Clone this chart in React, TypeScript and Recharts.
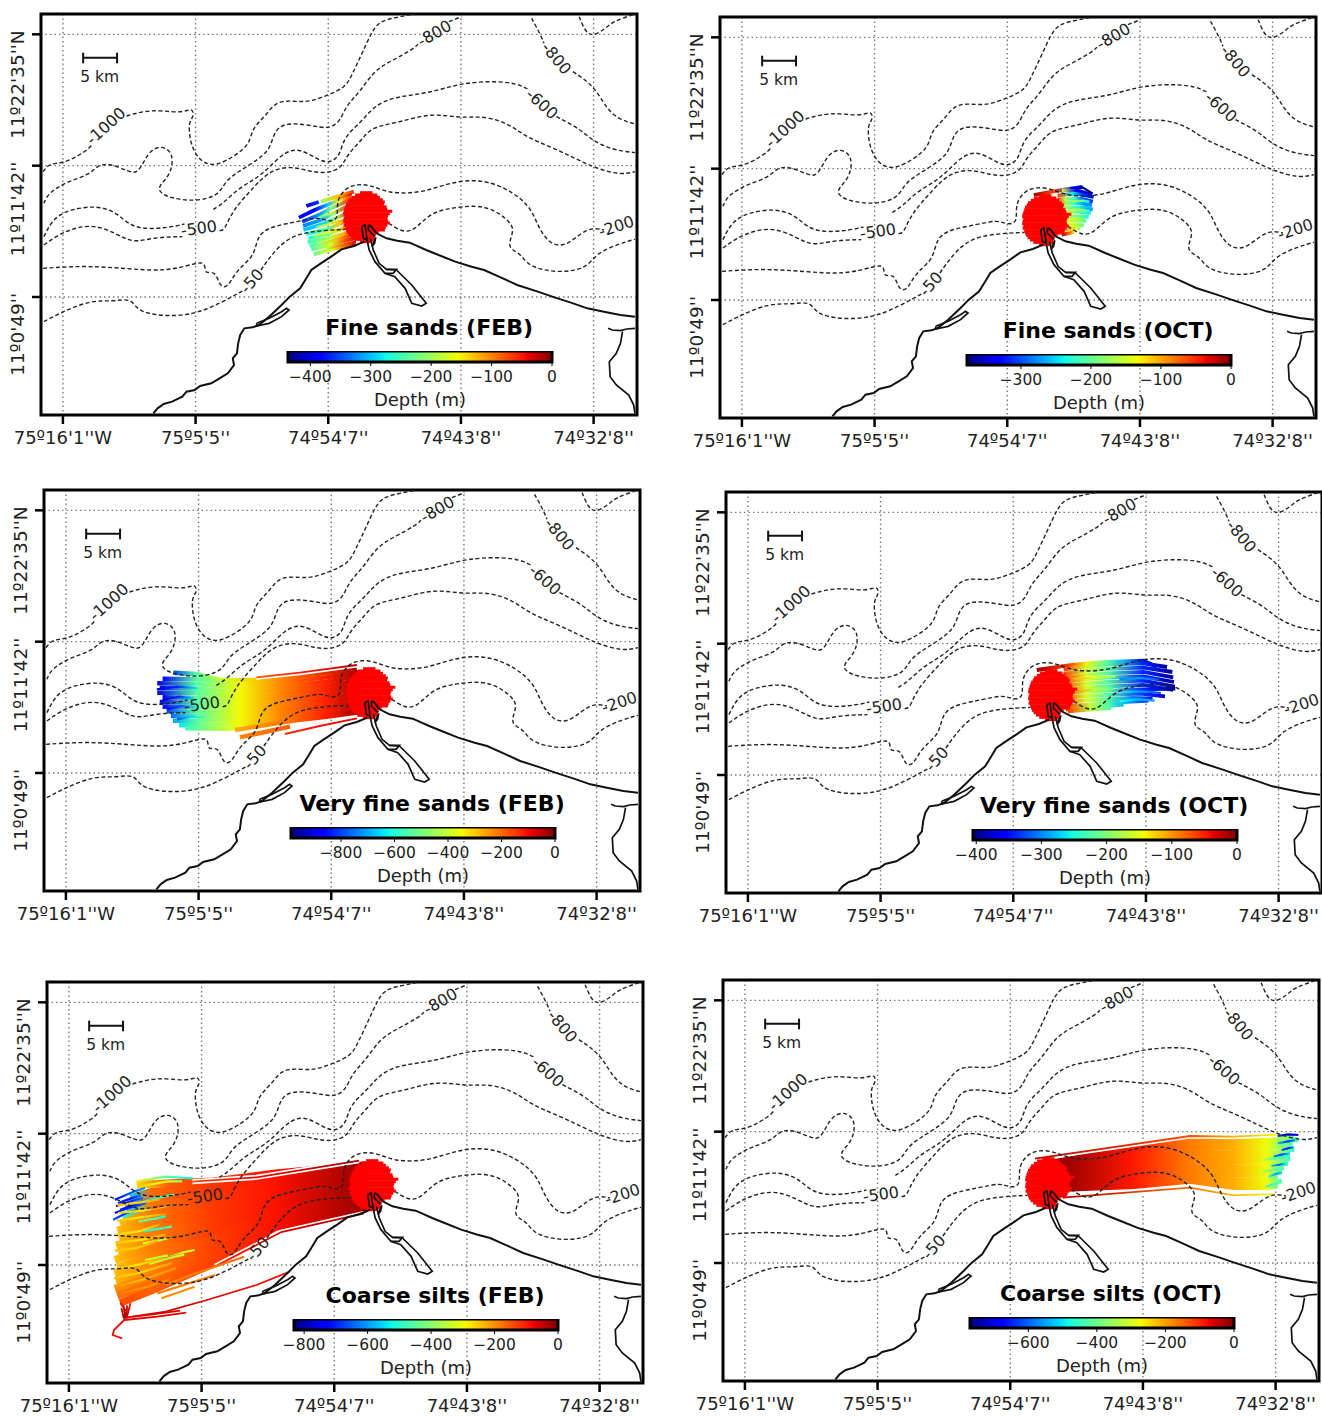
import React from "react";
import {
  ComposedChart,
  Line,
  Area,
  Scatter,
  XAxis,
  YAxis,
  CartesianGrid,
  ReferenceArea,
} from "recharts";

type Pair = [number, number];
type Pt = [number, number, number];

const FONT = "'DejaVu Sans', sans-serif";
const X_DOMAIN: Pair = [98, 1540];
const Y_DOMAIN: Pair = [42, 1245];

const xTicks = [151, 472, 793, 1114, 1435];
const xTickLabels = ["75º16'1''W", "75º5'5''", "74º54'7''", "74º43'8''", "74º32'8''"];
const yTicks = [103, 497, 891];
const yTickLabels = ["11º22'35''N", "11º11'42''", "11º0'49''"];

// bathymetry, split where the inline labels sit
const contours: Pair[][] = [
  [[103, 515], [118, 490], [150, 490], [185, 470], [215, 445], [222, 432]],
  [[305, 348], [340, 335], [385, 330], [440, 340], [465, 322], [468, 350], [455, 365], [458, 420], [470, 460], [491, 490], [523, 498], [571, 465], [604, 430], [608, 385], [644, 345], [668, 300], [720, 305], [749, 305], [793, 285], [835, 262], [850, 225], [875, 160], [900, 90], [920, 62], [960, 52], [1000, 42]],
  [[105, 610], [115, 580], [160, 545], [215, 525], [235, 495], [265, 490], [310, 515], [330, 520], [345, 490], [360, 455], [385, 437], [410, 450], [418, 480], [410, 525], [385, 555], [382, 575], [410, 595], [475, 605], [531, 585], [543, 540], [596, 500], [652, 455], [660, 400], [684, 367], [749, 375], [793, 388], [822, 365], [834, 320], [870, 275], [905, 210], [950, 180], [995, 150], [1010, 133]],
  [[1085, 65], [1115, 50]],
  [[105, 710], [125, 660], [160, 630], [235, 615], [285, 640], [320, 688], [400, 685], [445, 672]],
  [[515, 628], [539, 610], [575, 565], [620, 535], [652, 500], [688, 455], [725, 445], [769, 480], [797, 490], [822, 467], [830, 411], [874, 365], [902, 320], [950, 290], [1040, 280], [1120, 245], [1240, 243], [1280, 270]],
  [[1345, 350], [1400, 385], [1430, 420], [1480, 450], [1535, 458]],
  [[105, 735], [150, 695], [220, 670], [280, 700], [320, 730], [370, 712], [440, 710]],
  [[530, 692], [543, 690], [559, 635], [610, 565], [652, 510], [705, 498], [749, 515], [789, 520], [825, 505], [838, 465], [874, 420], [898, 380], [967, 367], [1040, 338], [1110, 355], [1175, 347], [1235, 375], [1270, 410], [1330, 440], [1390, 475], [1440, 505], [1500, 525], [1535, 515]],
  [[103, 805], [200, 797], [300, 805], [400, 815], [470, 790], [497, 785], [493, 825], [520, 810], [530, 860], [550, 865], [570, 810], [615, 770], [620, 710], [650, 680], [720, 665], [770, 650], [790, 665], [820, 660], [810, 600], [845, 550], [900, 555], [935, 580], [1020, 580], [1090, 545], [1170, 537], [1240, 575], [1285, 625], [1300, 680], [1330, 735], [1370, 740], [1420, 680], [1460, 690]],
  [[105, 965], [150, 935], [220, 900], [270, 905], [320, 893], [330, 940], [430, 952], [500, 930], [560, 890], [590, 870]],
  [[630, 810], [670, 740], [720, 695], [835, 688]],
  [[940, 670], [970, 695], [1000, 695], [1040, 635], [1110, 620], [1180, 615], [1240, 670], [1240, 700], [1225, 745], [1260, 760], [1275, 800], [1350, 820], [1420, 805], [1440, 760], [1500, 730], [1535, 718]],
  [[1285, 55], [1305, 100], [1315, 130]],
  [[1385, 215], [1440, 260], [1475, 350], [1535, 372]],
  [[1400, 50], [1415, 95], [1432, 110], [1465, 85], [1480, 65], [1535, 42]],
];

const coast: Pair[][] = [
  [[370, 1240], [380, 1225], [395, 1212], [415, 1205], [440, 1190], [450, 1175], [470, 1170], [483, 1158], [510, 1150], [530, 1135], [550, 1120], [565, 1095], [562, 1075], [572, 1060], [575, 1030], [580, 1005], [590, 985], [610, 982], [625, 975], [650, 950], [680, 915], [700, 890], [725, 865], [740, 835], [752, 810], [775, 790], [800, 770], [825, 748], [855, 738], [880, 725]],
  [[890, 675], [898, 680], [910, 700], [934, 715], [960, 722], [990, 728], [1030, 750], [1060, 765], [1100, 785], [1140, 800], [1170, 810], [1210, 832], [1250, 855], [1300, 875], [1335, 890], [1380, 908], [1420, 925], [1460, 935], [1500, 945], [1535, 950]],
  [[874, 680], [882, 675], [887, 720], [878, 715], [874, 680]],
  [[890, 675], [890, 690], [906, 710]],
  [[887, 720], [892, 750], [906, 785], [930, 820], [954, 830], [979, 865], [995, 910], [1019, 918], [1030, 910], [995, 855], [958, 810], [934, 808], [916, 790], [902, 750], [895, 715]],
  [[900, 735], [908, 712], [905, 730], [898, 740]],
  [[934, 808], [958, 808], [950, 820], [930, 820]],
  [[620, 970], [650, 955], [680, 935], [692, 925], [698, 930], [680, 950], [650, 970], [620, 978], [620, 970]],
  [[1470, 985], [1480, 990], [1500, 992], [1515, 987], [1535, 985]],
  [[1505, 995], [1500, 1030], [1490, 1060], [1473, 1085], [1475, 1130], [1490, 1155], [1520, 1185], [1532, 1215], [1535, 1240]],
];

const contourLabels = [
  { x: 255, y: 378, text: "-1000", angle: -42 },
  { x: 480, y: 685, text: "-500", angle: -8 },
  { x: 608, y: 843, text: "-50", angle: -48 },
  { x: 1050, y: 100, text: "-800", angle: -30 },
  { x: 1345, y: 175, text: "-800", angle: 50 },
  { x: 1310, y: 312, text: "-600", angle: 42 },
  { x: 1490, y: 679, text: "-200", angle: -18 },
];

// outflow disc, one row per line
const blobRows: Pt[] = [
  [578, 870, 900], [585, 858, 912], [592, 850, 918], [599, 843, 925], [606, 840, 930], [613, 836, 928],
  [620, 834, 934], [627, 832, 936], [634, 830, 948], [641, 829, 942], [648, 832, 938], [655, 830, 936],
  [662, 829, 938], [669, 832, 942], [676, 830, 936], [683, 834, 932], [690, 836, 930], [697, 838, 915],
  [704, 842, 908], [711, 848, 905], [718, 856, 905], [725, 870, 900],
];

const scaleBar: Pair[][] = [
  [[200, 173], [282, 173]],
  [[200, 158], [200, 190]],
  [[282, 158], [282, 190]],
];

const fineFebTracks: Pt[][] = [
  [[740, 618, -400], [770, 606, -360]],
  [[775, 605, -200], [815, 590, -130], [855, 575, -60]],
  [[722, 653, -390], [760, 630, -380], [790, 615, -300], [820, 600, -150], [850, 590, -60]],
  [[730, 665, -360], [770, 645, -320], [800, 625, -220], [845, 600, -60]],
  [[732, 678, -330], [775, 660, -310], [805, 640, -220], [845, 615, -50]],
  [[733, 690, -300], [780, 672, -290], [812, 655, -200], [845, 635, -50]],
  [[740, 702, -270], [790, 688, -240], [820, 672, -130], [850, 655, -40]],
  [[745, 715, -260], [795, 700, -220], [825, 688, -140], [850, 675, -40]],
  [[743, 727, -255], [800, 712, -190], [830, 702, -120], [855, 690, -40]],
  [[748, 738, -250], [800, 725, -180], [835, 712, -90], [860, 700, -30]],
  [[752, 748, -245], [800, 735, -170], [835, 722, -70], [865, 712, -20]],
  [[758, 763, -230], [800, 748, -160], [860, 733, -40]],
];

const fineFebTips: Pt[][] = [
  [[770, 652, -240], [800, 640, -190], [820, 632, -120]],
  [[765, 682, -200], [795, 672, -170], [830, 660, -110]],
  [[760, 707, -190], [800, 695, -160], [835, 683, -100]],
  [[770, 732, -190], [810, 718, -130], [845, 706, -60]],
  [[790, 746, -180], [830, 734, -80], [860, 724, -30]],
  [[805, 600, -150], [850, 582, -40]],
];

const fineOctTracks: Pt[][] = [
  [[857, 576, -10], [905, 565, -60], [950, 556, -300], [975, 552, -340]],
  [[925, 562, -150], [960, 562, -330], [998, 575, -350]],
  [[915, 578, -60], [950, 572, -240], [974, 575, -310], [1002, 582, -330]],
  [[915, 590, -50], [933, 588, -160], [955, 586, -220], [974, 588, -290], [1000, 596, -310]],
  [[915, 602, -40], [935, 600, -170], [955, 600, -220], [976, 602, -270], [998, 606, -280]],
  [[915, 615, -40], [935, 613, -170], [960, 613, -220], [985, 615, -260], [1000, 620, -270]],
  [[915, 628, -40], [935, 626, -160], [960, 626, -200], [995, 630, -240]],
  [[915, 641, -40], [935, 640, -160], [960, 640, -190], [990, 642, -230]],
  [[915, 654, -30], [940, 652, -150], [970, 652, -180], [984, 655, -210]],
  [[918, 667, -20], [940, 665, -140], [965, 664, -170], [978, 668, -200]],
  [[920, 680, -20], [940, 678, -110], [960, 675, -150], [970, 678, -180]],
  [[925, 695, -10], [945, 690, -80], [955, 686, -130]],
];

const fineOctTips: Pt[][] = [
  [[945, 555, -340], [975, 553, -370], [1000, 572, -375]],
  [[950, 595, -170], [975, 593, -200], [992, 596, -240]],
  [[945, 622, -150], [968, 620, -170], [985, 623, -200]],
  [[945, 648, -140], [965, 646, -160], [978, 648, -190]],
];

const veryFineFebTracks: Pt[][] = [
  [[411, 590, -800], [467, 594, -540], [524, 612, -400], [612, 612, -300], [717, 600, -180], [855, 580, -50]],
  [[385, 608, -880], [467, 610, -540], [572, 625, -350], [669, 618, -230], [782, 604, -120], [865, 588, -20]],
  [[372, 622, -900], [467, 624, -540], [572, 636, -350], [669, 630, -230], [782, 617, -120], [865, 598, -20]],
  [[378, 636, -890], [467, 638, -540], [572, 648, -350], [669, 642, -230], [782, 630, -120], [865, 611, -20]],
  [[372, 650, -900], [467, 652, -540], [572, 660, -350], [669, 654, -230], [782, 642, -120], [865, 624, -20]],
  [[385, 664, -880], [467, 666, -540], [572, 672, -350], [669, 666, -230], [782, 654, -120], [865, 637, -20]],
  [[378, 678, -890], [467, 680, -540], [572, 684, -350], [669, 678, -230], [782, 666, -120], [865, 650, -20]],
  [[385, 692, -880], [467, 693, -540], [572, 696, -350], [669, 690, -230], [782, 678, -120], [865, 663, -20]],
  [[395, 706, -800], [467, 707, -540], [572, 708, -350], [669, 702, -230], [782, 690, -120], [865, 676, -20]],
  [[405, 720, -760], [467, 720, -540], [572, 720, -350], [669, 714, -230], [782, 702, -120], [865, 689, -20]],
  [[410, 734, -700], [467, 734, -540], [572, 732, -350], [669, 726, -230], [782, 714, -120], [865, 702, -20]],
  [[425, 748, -640], [480, 748, -500], [572, 744, -350], [669, 738, -230], [782, 722, -120], [865, 708, -20]],
  [[440, 757, -580], [540, 758, -400], [572, 755, -350]],
  [[560, 762, -270], [709, 732, -200]],
  [[572, 784, -230], [693, 752, -190]],
];

const veryFineFebRails: Pt[][] = [
  [[612, 604, -170], [717, 590, -120], [855, 567, -50]],
  [[681, 774, -130], [765, 750, -110], [855, 727, -90]],
];

const veryFineFebTips: Pt[][] = [
  [[371, 640, -920], [420, 632, -820], [470, 636, -640]],
  [[385, 672, -940], [425, 662, -820], [460, 668, -640]],
  [[395, 700, -900], [430, 690, -780], [470, 695, -600]],
  [[420, 730, -780], [455, 722, -650], [500, 726, -480]],
];

const veryFineOctTracks: Pt[][] = [
  [[850, 576, -10], [926, 562, -60], [971, 556, -140], [1019, 552, -220], [1059, 550, -280], [1108, 548, -350], [1140, 566, -395]],
  [[915, 575, -60], [971, 565, -160], [1019, 560, -220], [1108, 556, -340], [1165, 567, -395]],
  [[915, 588, -60], [971, 578, -160], [1019, 573, -220], [1108, 569, -340], [1178, 582, -395]],
  [[915, 600, -60], [971, 590, -160], [1019, 586, -220], [1108, 582, -340], [1180, 598, -395]],
  [[915, 612, -60], [971, 603, -160], [1019, 599, -220], [1108, 595, -340], [1182, 612, -395]],
  [[915, 624, -60], [971, 616, -160], [1019, 612, -220], [1108, 608, -340], [1184, 626, -395]],
  [[915, 636, -60], [971, 628, -160], [1019, 625, -220], [1108, 621, -340], [1180, 636, -395]],
  [[915, 648, -60], [971, 641, -160], [1019, 638, -220], [1108, 634, -340], [1185, 632, -395]],
  [[915, 660, -60], [971, 654, -160], [1019, 651, -220], [1100, 647, -330], [1160, 655, -380]],
  [[915, 672, -60], [971, 667, -160], [1019, 664, -220], [1080, 660, -300], [1130, 662, -350]],
  [[920, 684, -60], [980, 680, -170], [1019, 675, -220], [1060, 672, -280], [1120, 668, -340]],
  [[920, 695, -60], [980, 688, -170], [1019, 684, -220], [1060, 680, -280]],
  [[925, 700, -60], [980, 695, -170], [1030, 690, -230]],
];

const veryFineOctTips: Pt[][] = [
  [[940, 603, -110], [990, 598, -150], [1040, 596, -200]],
  [[945, 640, -100], [990, 635, -170], [1035, 632, -210]],
  [[1050, 604, -300], [1100, 600, -290], [1145, 605, -320]],
  [[1060, 642, -260], [1110, 640, -300], [1150, 645, -330]],
  [[1050, 670, -240], [1095, 664, -280], [1135, 668, -290]],
];

const coarseFebTracks: Pt[][] = [
  [[872, 591, -15], [650, 616, -90], [500, 640, -120], [400, 645, -150], [315, 650, -260]],
  [[872, 600, -15], [650, 628, -90], [500, 657, -120], [350, 671, -170], [300, 690, -560]],
  [[872, 612, -15], [650, 639, -90], [500, 674, -120], [350, 693, -170], [290, 723, -600]],
  [[872, 622, -15], [650, 651, -90], [500, 691, -125], [350, 714, -180], [280, 745, -520]],
  [[872, 632, -15], [650, 662, -90], [500, 708, -125], [350, 736, -180], [275, 767, -240]],
  [[872, 643, -15], [650, 674, -90], [500, 725, -125], [350, 757, -180], [268, 788, -240]],
  [[872, 653, -15], [650, 686, -90], [500, 742, -125], [350, 778, -180], [272, 810, -240]],
  [[872, 663, -15], [650, 697, -90], [500, 760, -125], [350, 800, -185], [265, 832, -240]],
  [[872, 673, -15], [650, 709, -90], [500, 776, -125], [350, 821, -185], [270, 853, -240]],
  [[872, 683, -15], [650, 720, -90], [500, 794, -125], [350, 843, -185], [262, 875, -240]],
  [[872, 693, -15], [650, 732, -90], [500, 811, -130], [350, 864, -190], [268, 897, -240]],
  [[872, 703, -15], [650, 744, -90], [500, 828, -130], [350, 885, -190], [262, 918, -240]],
  [[872, 713, -15], [650, 755, -90], [500, 845, -130], [350, 907, -190], [265, 940, -230]],
  [[872, 717, -15], [650, 767, -90], [500, 862, -130], [350, 928, -180], [262, 962, -200]],
  [[872, 719, -15], [650, 774, -90], [500, 875, -130], [350, 950, -170], [268, 983, -170]],
  [[872, 721, -15], [650, 778, -90], [500, 888, -130], [350, 968, -160], [275, 1005, -140]],
];

const coarseFebRails: Pt[][] = [
  [[853, 578, -30], [605, 628, -80], [450, 641, -130]],
  [[865, 736, -30], [665, 792, -60], [575, 850, -90], [505, 895, -110]],
];

const coarseFebThin: Pt[][] = [
  [[685, 911, -90], [605, 951, -80], [485, 996, -70], [385, 1031, -60], [305, 1046, -60]],
  [[435, 1034, -70], [365, 1046, -70], [285, 1056, -70]],
  [[285, 1056, -80], [260, 1086, -80], [257, 1101, -80], [280, 1111, -80]],
  [[275, 1005, -90], [290, 1030, -60], [285, 1056, -50]],
  [[300, 1006, -90], [295, 1030, -60], [290, 1052, -50]],
  [[283, 1012, -60], [285, 1030, -30], [288, 1050, -40]],
  [[278, 1020, -60], [281, 1036, -30], [284, 1052, -40]],
  [[292, 1012, -60], [291, 1030, -30], [288, 1046, -40]],
  [[420, 1028, -70], [350, 1040, -70], [290, 1048, -70]],
];

const coarseFebTips: Pt[][] = [
  [[315, 640, -280], [385, 626, -450], [450, 631, -530]],
  [[320, 656, -260], [390, 640, -320], [425, 640, -400]],
  [[262, 695, -720], [310, 670, -640], [335, 660, -600]],
  [[265, 715, -760], [300, 700, -700], [330, 690, -640]],
  [[262, 735, -730], [300, 718, -690], [338, 705, -660]],
  [[258, 755, -660], [290, 735, -700], [320, 725, -640]],
  [[270, 705, -700], [300, 692, -720], [325, 682, -620]],
  [[275, 725, -700], [305, 712, -740], [335, 698, -680]],
  [[330, 700, -560], [370, 688, -500], [405, 680, -470]],
  [[335, 728, -620], [375, 715, -540], [400, 708, -480]],
  [[330, 790, -520], [370, 782, -500], [400, 776, -470]],
  [[320, 760, -420], [360, 752, -470], [385, 745, -520]],
  [[335, 876, -330], [415, 856, -360], [455, 846, -320]],
  [[345, 888, -320], [395, 870, -370], [430, 860, -300]],
  [[330, 826, -300], [375, 816, -360], [395, 808, -300]],
  [[268, 712, -240], [320, 704, -270], [372, 694, -220]],
  [[270, 735, -260], [330, 728, -280], [395, 712, -220]],
  [[268, 758, -250], [325, 748, -280], [385, 738, -210]],
  [[265, 800, -260], [320, 790, -280], [370, 770, -220]],
  [[265, 825, -250], [330, 815, -280], [385, 800, -220]],
  [[262, 848, -240], [315, 840, -270], [365, 820, -210]],
  [[262, 905, -250], [320, 890, -280], [380, 870, -220]],
  [[260, 930, -240], [320, 915, -270], [400, 885, -220]],
  [[265, 955, -210], [330, 935, -240], [410, 900, -200]],
  [[268, 978, -180], [330, 960, -210], [395, 935, -190]],
  [[480, 690, -130], [395, 708, -160], [350, 722, -180]],
  [[470, 730, -140], [400, 750, -160], [365, 760, -180]],
  [[470, 770, -140], [410, 795, -160], [375, 810, -180]],
  [[480, 820, -140], [420, 850, -160], [390, 862, -180]],
  [[575, 866, -170], [435, 926, -190], [385, 951, -200]],
  [[505, 921, -180], [365, 976, -190]],
  [[455, 956, -200], [375, 991, -200]],
];

const coarseOctTracks: Pt[][] = [
  [[860, 595, -20], [929, 580, -20], [1091, 540, -90], [1228, 520, -170], [1333, 522, -210], [1414, 522, -280], [1480, 512, -420]],
  [[860, 600, -20], [929, 588, -20], [1091, 552, -90], [1228, 532, -170], [1333, 535, -210], [1414, 535, -280], [1490, 520, -440]],
  [[860, 610, -20], [929, 596, -20], [1091, 564, -90], [1228, 544, -170], [1333, 548, -210], [1414, 548, -280], [1476, 535, -440]],
  [[860, 618, -20], [929, 604, -20], [1091, 575, -90], [1228, 556, -170], [1333, 562, -210], [1414, 562, -280], [1480, 550, -450]],
  [[860, 625, -20], [929, 613, -20], [1091, 587, -90], [1228, 568, -170], [1333, 575, -210], [1414, 575, -280], [1470, 565, -440]],
  [[860, 632, -20], [929, 621, -20], [1091, 599, -90], [1228, 580, -170], [1333, 588, -210], [1414, 588, -280], [1470, 578, -450]],
  [[860, 640, -20], [929, 630, -20], [1091, 610, -90], [1228, 592, -170], [1333, 602, -210], [1414, 602, -280], [1465, 592, -440]],
  [[860, 648, -20], [929, 638, -20], [1091, 622, -90], [1228, 604, -170], [1333, 615, -210], [1414, 615, -280], [1455, 605, -430]],
  [[860, 654, -20], [929, 647, -20], [1091, 634, -90], [1228, 616, -170], [1333, 628, -210], [1414, 628, -280], [1450, 618, -440]],
  [[860, 660, -20], [929, 655, -20], [1091, 645, -90], [1228, 628, -170], [1333, 642, -210], [1414, 642, -280], [1440, 632, -420]],
  [[860, 668, -20], [929, 664, -20], [1091, 657, -90], [1228, 640, -170], [1333, 655, -210], [1414, 655, -280], [1450, 645, -440]],
  [[860, 675, -20], [929, 670, -20], [1091, 662, -90], [1228, 646, -170], [1333, 665, -210], [1414, 665, -280], [1440, 660, -400]],
];

const coarseOctRails: Pt[][] = [
  [[853, 578, -40], [1228, 510, -130], [1333, 512, -210], [1440, 506, -270]],
  [[920, 695, -30], [1228, 665, -160], [1333, 688, -220], [1430, 684, -280]],
];

const coarseOctTips: Pt[][] = [
  [[1440, 510, -640], [1465, 505, -720], [1490, 507, -680]],
  [[1440, 532, -520], [1465, 526, -640], [1482, 522, -560]],
  [[1450, 552, -620], [1468, 546, -660], [1480, 544, -520]],
  [[1430, 572, -560], [1450, 566, -620], [1470, 562, -500]],
  [[1425, 600, -520], [1445, 596, -600], [1462, 592, -480]],
  [[1418, 632, -440], [1435, 624, -560], [1450, 620, -520]],
  [[1410, 662, -380], [1428, 656, -460], [1442, 652, -420]],
  [[1395, 620, -300], [1425, 612, -400], [1445, 608, -440]],
  [[1400, 582, -300], [1430, 578, -420], [1460, 572, -460]],
];

const none: Pt[][] = [];

const panels = [
  { id: "a", title: "Fine sands (FEB)", left: 41, top: 14, min: -437, ticks: [-400, -300, -200, -100, 0], tracks: fineFebTracks, rails: none, thin: none, tips: fineFebTips, width: 3.8 },
  { id: "b", title: "Fine sands (OCT)", left: 720, top: 17, min: -377, ticks: [-300, -200, -100, 0], tracks: fineOctTracks, rails: none, thin: none, tips: fineOctTips, width: 3.8 },
  { id: "c", title: "Very fine sands (FEB)", left: 44, top: 490, min: -987, ticks: [-800, -600, -400, -200, 0], tracks: veryFineFebTracks, rails: veryFineFebRails, thin: none, tips: veryFineFebTips, width: 4.5 },
  { id: "d", title: "Very fine sands (OCT)", left: 726, top: 492, min: -405, ticks: [-400, -300, -200, -100, 0], tracks: veryFineOctTracks, rails: none, thin: none, tips: veryFineOctTips, width: 3.8 },
  { id: "e", title: "Coarse silts (FEB)", left: 47, top: 982, min: -832, ticks: [-800, -600, -400, -200, 0], tracks: coarseFebTracks, rails: coarseFebRails, thin: coarseFebThin, tips: coarseFebTips, width: 7.5 },
  { id: "f", title: "Coarse silts (OCT)", left: 723, top: 980, min: -770, ticks: [-600, -400, -200, 0], tracks: coarseOctTracks, rails: coarseOctRails, thin: none, tips: coarseOctTips, width: 4.8 },
];

const jet = (t: number) => {
  const clamp = (v: number) => Math.round(255 * Math.max(0, Math.min(1, v)));
  const r = t < 0.35 ? 0 : t < 0.66 ? (t - 0.35) / 0.31 : t < 0.89 ? 1 : 1 - ((t - 0.89) / 0.11) * 0.5;
  const g = t < 0.125 ? 0 : t < 0.375 ? (t - 0.125) / 0.25 : t < 0.64 ? 1 : t < 0.91 ? 1 - (t - 0.64) / 0.27 : 0;
  const b = t < 0.11 ? 0.5 + (t / 0.11) * 0.5 : t < 0.34 ? 1 : t < 0.65 ? 1 - (t - 0.34) / 0.31 : 0;
  return `rgb(${clamp(r)},${clamp(g)},${clamp(b)})`;
};

const depthColor = (d: number, min: number) => jet(1 - d / min);

const toXY = (pts: number[][]) => pts.map((p) => ({ x: p[0], y: p[1] }));

const trackGradient = (id: string, track: Pt[], min: number) => {
  const xs = track.map((p) => p[0]);
  const lo = Math.min(...xs);
  const hi = Math.max(...xs);
  const sorted = [...track].sort((a, b) => a[0] - b[0]);
  return (
    <linearGradient key={id} id={id} x1="0" y1="0" x2="1" y2="0">
      {sorted.map((p, i) => (
        <stop key={i} offset={(p[0] - lo) / (hi - lo)} stopColor={depthColor(p[2], min)} />
      ))}
    </linearGradient>
  );
};

const pathLine = (key: string, pts: number[][], stroke: string, width: number, dash?: string, curve: any = "linear") => (
  <Line
    key={key}
    data={toXY(pts)}
    dataKey="y"
    type={curve}
    stroke={stroke}
    strokeWidth={width}
    strokeDasharray={dash}
    dot={false}
    activeDot={false}
    legendType="none"
    isAnimationActive={false}
  />
);

const YTick = (props: any) => {
  const { x, y, index } = props;
  const tx = x - 6;
  const ty = y - 4;
  return (
    <text
      x={tx}
      y={ty}
      transform={`rotate(-90 ${tx} ${ty})`}
      textAnchor="end"
      fontFamily={FONT}
      fontSize={18.5}
      fill="#222"
    >
      {yTickLabels[index]}
    </text>
  );
};

const MapText = (props: any) => {
  const { cx, cy, payload } = props;
  return (
    <text
      x={cx}
      y={cy}
      transform={`rotate(${payload.angle || 0} ${cx} ${cy})`}
      textAnchor="middle"
      dominantBaseline="central"
      fontFamily={FONT}
      fontSize={payload.size || 16}
      fontWeight={payload.bold ? 700 : 400}
      fill={payload.bold ? "#000" : "#222"}
    >
      {payload.text}
    </text>
  );
};

function MapPanel({ p }: { p: (typeof panels)[number] }) {
  const title = [{ x: 1037, y: 981, text: p.title, size: 22, bold: true }];
  const scaleText = [{ x: 240, y: 232, text: "5 km", size: 15.5 }];
  return (
    <div style={{ position: "absolute", left: p.left - 60, top: p.top - 10 }}>
      <ComposedChart width={666} height={470} margin={{ top: 10, right: 10, bottom: 0, left: 0 }}>
        <defs>
          {p.tracks.map((t, i) => trackGradient(`${p.id}-t${i}`, t, p.min))}
          {p.rails.map((t, i) => trackGradient(`${p.id}-r${i}`, t, p.min))}
          {p.thin.map((t, i) => trackGradient(`${p.id}-n${i}`, t, p.min))}
          {p.tips.map((t, i) => trackGradient(`${p.id}-p${i}`, t, p.min))}
        </defs>
        <CartesianGrid stroke="#777" strokeWidth={1.4} strokeDasharray="1.5 3" />
        <XAxis
          type="number"
          dataKey="x"
          domain={X_DOMAIN}
          ticks={xTicks}
          allowDataOverflow
          height={59}
          interval={0}
          tickSize={9}
          tickMargin={7}
          axisLine={false}
          tickLine={{ stroke: "#000", strokeWidth: 2.5 }}
          tickFormatter={(_v: number, i: number) => xTickLabels[i]}
          tick={{ fontFamily: FONT, fontSize: 18, fill: "#222" }}
        />
        <YAxis
          type="number"
          dataKey="y"
          domain={Y_DOMAIN}
          reversed
          ticks={yTicks}
          allowDataOverflow
          width={60}
          interval={0}
          tickSize={9}
          axisLine={false}
          tickLine={{ stroke: "#000", strokeWidth: 2.5 }}
          tick={<YTick />}
        />
        {p.tracks.map((t, i) => pathLine(`t${i}`, t, `url(#${p.id}-t${i})`, p.width))}
        {p.rails.map((t, i) => pathLine(`w${i}`, t, "#fff", 5))}
        {p.rails.map((t, i) => pathLine(`r${i}`, t, `url(#${p.id}-r${i})`, 1.8))}
        {p.thin.map((t, i) => pathLine(`n${i}`, t, `url(#${p.id}-n${i})`, 1.8))}
        {p.tips.map((t, i) => pathLine(`p${i}`, t, `url(#${p.id}-p${i})`, 2.2))}
        {contours.map((c, i) => pathLine(`c${i}`, c, "#222", 1.4, "4 2.5", "basis"))}
        {blobRows.map((r, i) => pathLine(`b${i}`, [[r[1], r[0]], [r[2], r[0]]], "#fe0000", 3))}
        {coast.map((c, i) => pathLine(`s${i}`, c, "#111", i < 2 ? 2 : 1.7))}
        {scaleBar.map((c, i) => pathLine(`k${i}`, c, "#111", 2))}
        <Scatter data={contourLabels} shape={<MapText />} isAnimationActive={false} legendType="none" />
        <Scatter data={scaleText} shape={<MapText />} isAnimationActive={false} legendType="none" />
        <Scatter data={title} shape={<MapText />} isAnimationActive={false} legendType="none" />
        <ReferenceArea
          x1={X_DOMAIN[0]}
          x2={X_DOMAIN[1]}
          y1={Y_DOMAIN[0]}
          y2={Y_DOMAIN[1]}
          fill="none"
          fillOpacity={0}
          stroke="#000"
          strokeWidth={3}
          ifOverflow="visible"
        />
      </ComposedChart>
    </div>
  );
}

const barStops = [0, 0.11, 0.125, 0.34, 0.375, 0.5, 0.64, 0.66, 0.75, 0.89, 0.91, 1];

function ColorBar({ p }: { p: (typeof panels)[number] }) {
  const data = [
    { d: p.min, v: 1 },
    { d: 0, v: 1 },
  ];
  return (
    <div style={{ position: "absolute", left: p.left + 247 - 30, top: p.top + 337 }}>
      <ComposedChart width={324} height={62} data={data} margin={{ top: 0, right: 30, bottom: 0, left: 30 }}>
        <defs>
          <linearGradient id={`${p.id}-bar`} x1="0" y1="0" x2="1" y2="0">
            {barStops.map((s) => (
              <stop key={s} offset={s} stopColor={jet(s)} />
            ))}
          </linearGradient>
        </defs>
        <XAxis
          type="number"
          dataKey="d"
          domain={[p.min, 0]}
          ticks={p.ticks}
          height={51}
          interval={0}
          tickSize={4}
          tickMargin={5}
          axisLine={false}
          tickLine={{ stroke: "#000", strokeWidth: 1 }}
          tickFormatter={(v: number) => String(v).replace("-", "\u2212")}
          tick={{ fontFamily: FONT, fontSize: 15.5, fill: "#222" }}
          label={{ value: "Depth (m)", position: "insideBottom", offset: 7, fontFamily: FONT, fontSize: 18, fill: "#222" }}
        />
        <YAxis hide domain={[0, 1]} />
        <Area dataKey="v" type="linear" stroke="none" fill={`url(#${p.id}-bar)`} fillOpacity={1} isAnimationActive={false} />
        <ReferenceArea x1={p.min} x2={0} y1={0} y2={1} fill="none" fillOpacity={0} stroke="#000" strokeWidth={3} ifOverflow="visible" />
      </ComposedChart>
    </div>
  );
}

export default function App() {
  return (
    <div style={{ position: "absolute", left: 0, top: 0, width: 1322, height: 1416, overflow: "hidden", background: "#fff" }}>
      {panels.map((p) => (
        <React.Fragment key={p.id}>
          <MapPanel p={p} />
          <ColorBar p={p} />
        </React.Fragment>
      ))}
    </div>
  );
}
